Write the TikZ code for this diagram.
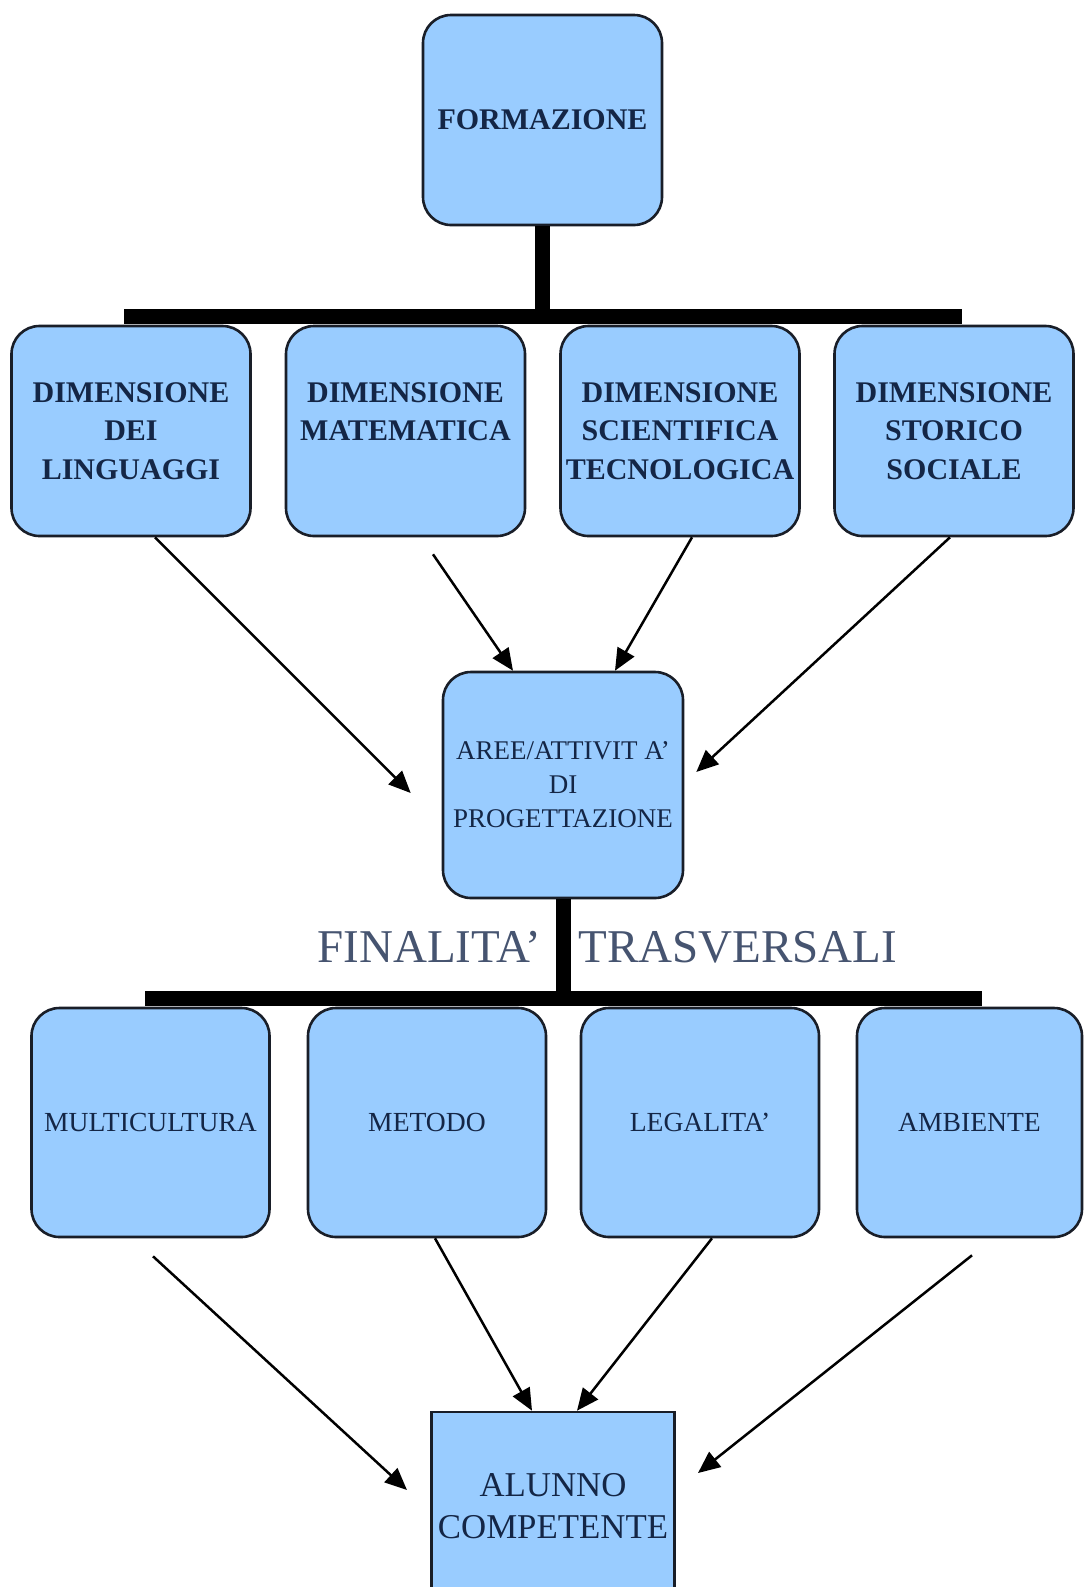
\documentclass[tikz,border=0pt]{standalone}
\definecolor{boxblue}{RGB}{153, 204, 255}
\definecolor{boxline}{RGB}{25, 30, 40}
\definecolor{inkblue}{RGB}{20, 38, 70}
\definecolor{slateblue}{RGB}{70, 84, 112}
\usepackage{fontspec}
\setmainfont{Liberation Serif}
\usepackage{tikz}
\usetikzlibrary{arrows.meta, positioning, calc}

\begin{document}
\begin{tikzpicture}[x=0.5pt, y=-0.5pt,
    dimbox/.style={draw=boxline, fill=boxblue, line width=1.3pt, rounded corners=14pt, align=center, inner sep=1pt, text=inkblue},
    topbox/.style={dimbox, minimum width=119.5pt, minimum height=105pt, font=\fontsize{15}{19.25}\selectfont\bfseries},
    finbox/.style={dimbox, minimum width=119pt, minimum height=114.5pt, font=\fontsize{13.8}{17}\selectfont},
    trunk/.style={line width=7.5pt, black},
    link/.style={line width=1.25pt, black, -{Triangle[length=11pt, width=9.5pt]}}]
  \clip (0,0) rectangle (1084,1587);
  \fill[white] (0,0) rectangle (1084,1587);

  \coordinate (b1l) at (124,316.5);
  \coordinate (b1r) at (962,316.5);
  \coordinate (b2l) at (145,998.5);
  \coordinate (b2r) at (982,998.5);

  \node[topbox] (form) at (542.5,120) {FORMAZIONE};
  \draw[trunk] (b1l) -- (b1r);
  \draw[trunk] (form.south) -- (form.south |- b1l);

  \node[topbox] (dl) at (131,431) {DIMENSIONE\\DEI\\LINGUAGGI};
  \node[topbox] (dm) at (405.5,431) {DIMENSIONE\\MATEMATICA\\~};
  \node[topbox] (ds) at (680,431) {DIMENSIONE\\SCIENTIFICA\\TECNOLOGICA};
  \node[topbox] (dss) at (954,431) {DIMENSIONE\\STORICO\\SOCIALE};

  \node[dimbox, minimum width=120pt, minimum height=113pt, font=\fontsize{13.5}{17}\selectfont] (aree) at (563,785) {AREE/ATTIVIT A’\\DI\\PROGETTAZIONE};

  \node[font=\fontsize{23.5}{28}\selectfont, text=slateblue, anchor=base west, inner sep=0pt] (fin) at (317,962) {FINALITA’\hspace{19pt}TRASVERSALI};
  \draw[trunk] (b2l) -- (b2r);
  \draw[trunk] (aree.south) -- (aree.south |- b2l);

  \node[finbox] (mu) at (150.5,1122.5) {MULTICULTURA};
  \node[finbox] (me) at (427,1122.5) {METODO};
  \node[finbox] (le) at (700,1122.5) {LEGALITA’};
  \node[finbox, minimum width=112.5pt] (am) at (969.5,1122.5) {AMBIENTE};

  \node[draw=boxline, fill=boxblue, line width=1.3pt, minimum width=120pt, minimum height=94pt, align=center, text=inkblue, font=\fontsize{17.4}{21}\selectfont] (alunno) at (553,1506) {ALUNNO\\COMPETENTE};

  \draw[link] ($(dl.south)+(24,0)$) -- ($(aree.west)+(-31,8)$);
  \draw[link] ($(dm.south)+(27.5,17)$) -- ($(aree.north)+(-50,0)$);
  \draw[link] ($(ds.south)+(12,0)$) -- ($(aree.north)+(52,0)$);
  \draw[link] ($(dss.south)+(-4,0)$) -- ($(aree.east)+(12,-13)$);

  \draw[link] ($(mu.south)+(2.5,18)$) -- ($(alunno.west)+(-23,-16)$);
  \draw[link] ($(me.south)+(8,0)$) -- ($(alunno.north)+(-21,0)$);
  \draw[link] ($(le.south)+(12,0)$) -- ($(alunno.north)+(24,0)$);
  \draw[link] ($(am.south)+(2.5,17)$) -- ($(alunno.east)+(22,-33)$);
\end{tikzpicture}
\end{document}
